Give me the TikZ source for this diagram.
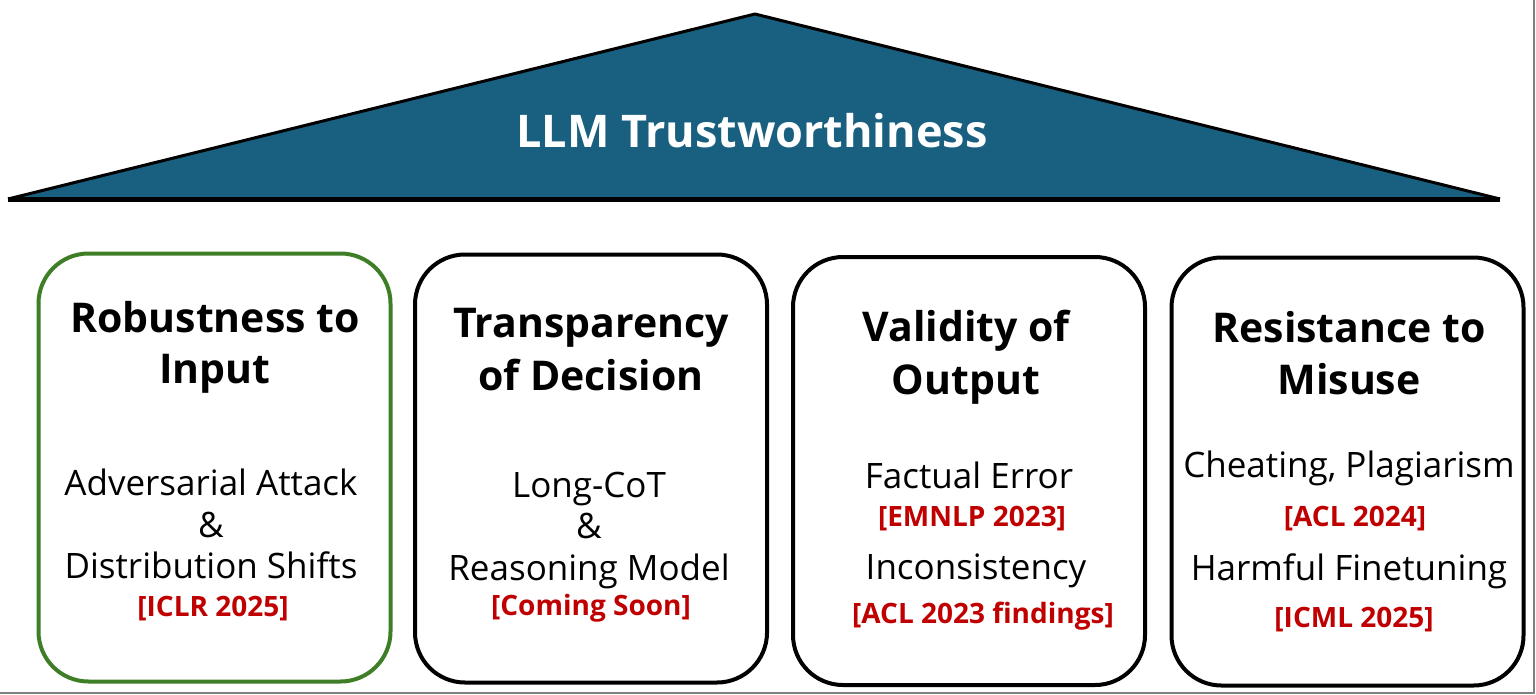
\documentclass[tikz,border=0pt]{standalone}
\usepackage{fontspec}
\setmainfont{Open Sans}
\usetikzlibrary{positioning}

\definecolor{roofblue}{RGB}{25,96,128}
\definecolor{pillargreen}{RGB}{62,126,38}
\definecolor{venuered}{RGB}{192,0,0}

\newcommand{\roofsize}{\fontsize{45}{54}\selectfont\bfseries}
\newcommand{\headsize}{\fontsize{41}{52}\selectfont\bfseries}
\newcommand{\bodysize}{\fontsize{35}{42}\selectfont}
\newcommand{\venuesize}{\fontsize{28}{34}\selectfont\bfseries}

\begin{document}
\begin{tikzpicture}[x=1pt,y=-1pt]
    \tikzstyle{every node}=[inner sep=0,outer sep=0]
    \tikzstyle{pillar}=[draw,line width=4,rounded corners=50,minimum width=352,minimum height=428]
    \tikzstyle{head}=[anchor=base,font=\headsize]
    \tikzstyle{body}=[anchor=base,font=\bodysize]
    \tikzstyle{venue}=[anchor=base,font=\venuesize,text=venuered]
    \useasboundingbox (0,0) rectangle (1536,694);
    \draw[gray,line width=1.5] (0,693) -- (1534,693) -- (1534,0);

    % roof
    \fill[roofblue] (8,199) -- (755,14) -- (1500,199) -- cycle;
    \draw[line width=3,line join=round] (8,199) -- (755,14) -- (1500,199);
    \draw[line width=5] (8,199) -- (1500,199);
    \node[anchor=base,font=\roofsize,text=white] (roof) at (752,147) {LLM Trustworthiness};

    % pillars
    \node[pillar,draw=pillargreen] (p1) at (214.5,467.5) {};
    \node[pillar] (p2) at (591,468.5) {};
    \node[pillar] (p3) at (969,471) {};
    \node[pillar] (p4) at (1347.5,471.5) {};

    \foreach \n/\x/\ya/\yb/\ta/\tb in {1/215/332/383/Robustness to/Input,
                                      2/591/337/390/Transparency/of Decision,
                                      3/966/341/394/Validity of/Output,
                                      4/1349/342/394/Resistance to/Misuse} {
        \node[head] (h\n a) at (\x,\ya) {\ta};
        \node[head] (h\n b) at (\x,\yb) {\tb};
    }

    % robustness
    \node[body] (adv) at (211,495) {Adversarial Attack};
    \node[body] (amp1) at (211,537) {\&};
    \node[body] (dist) at (211,578) {Distribution Shifts};
    \node[venue] (iclr) at (213,616) {[ICLR 2025]};

    % transparency
    \node[body] (cot) at (589,497) {Long-CoT};
    \node[body] (amp2) at (589,538) {\&};
    \node[body] (reas) at (589,580) {Reasoning Model};
    \node[venue] (soon) at (591,615) {[Coming Soon]};

    % validity
    \node[body] (fact) at (969,488) {Factual Error};
    \node[venue] (emnlp) at (972,526) {[EMNLP 2023]};
    \node[body] (incon) at (976,579) {Inconsistency};
    \node[venue] (acl23) at (983,623) {[ACL 2023 findings]};

    % misuse
    \node[body] (cheat) at (1349,477) {Cheating, Plagiarism};
    \node[venue] (acl24) at (1355,526) {[ACL 2024]};
    \node[body] (harm) at (1349,580) {Harmful Finetuning};
    \node[venue] (icml) at (1354,627) {[ICML 2025]};
\end{tikzpicture}
\end{document}
